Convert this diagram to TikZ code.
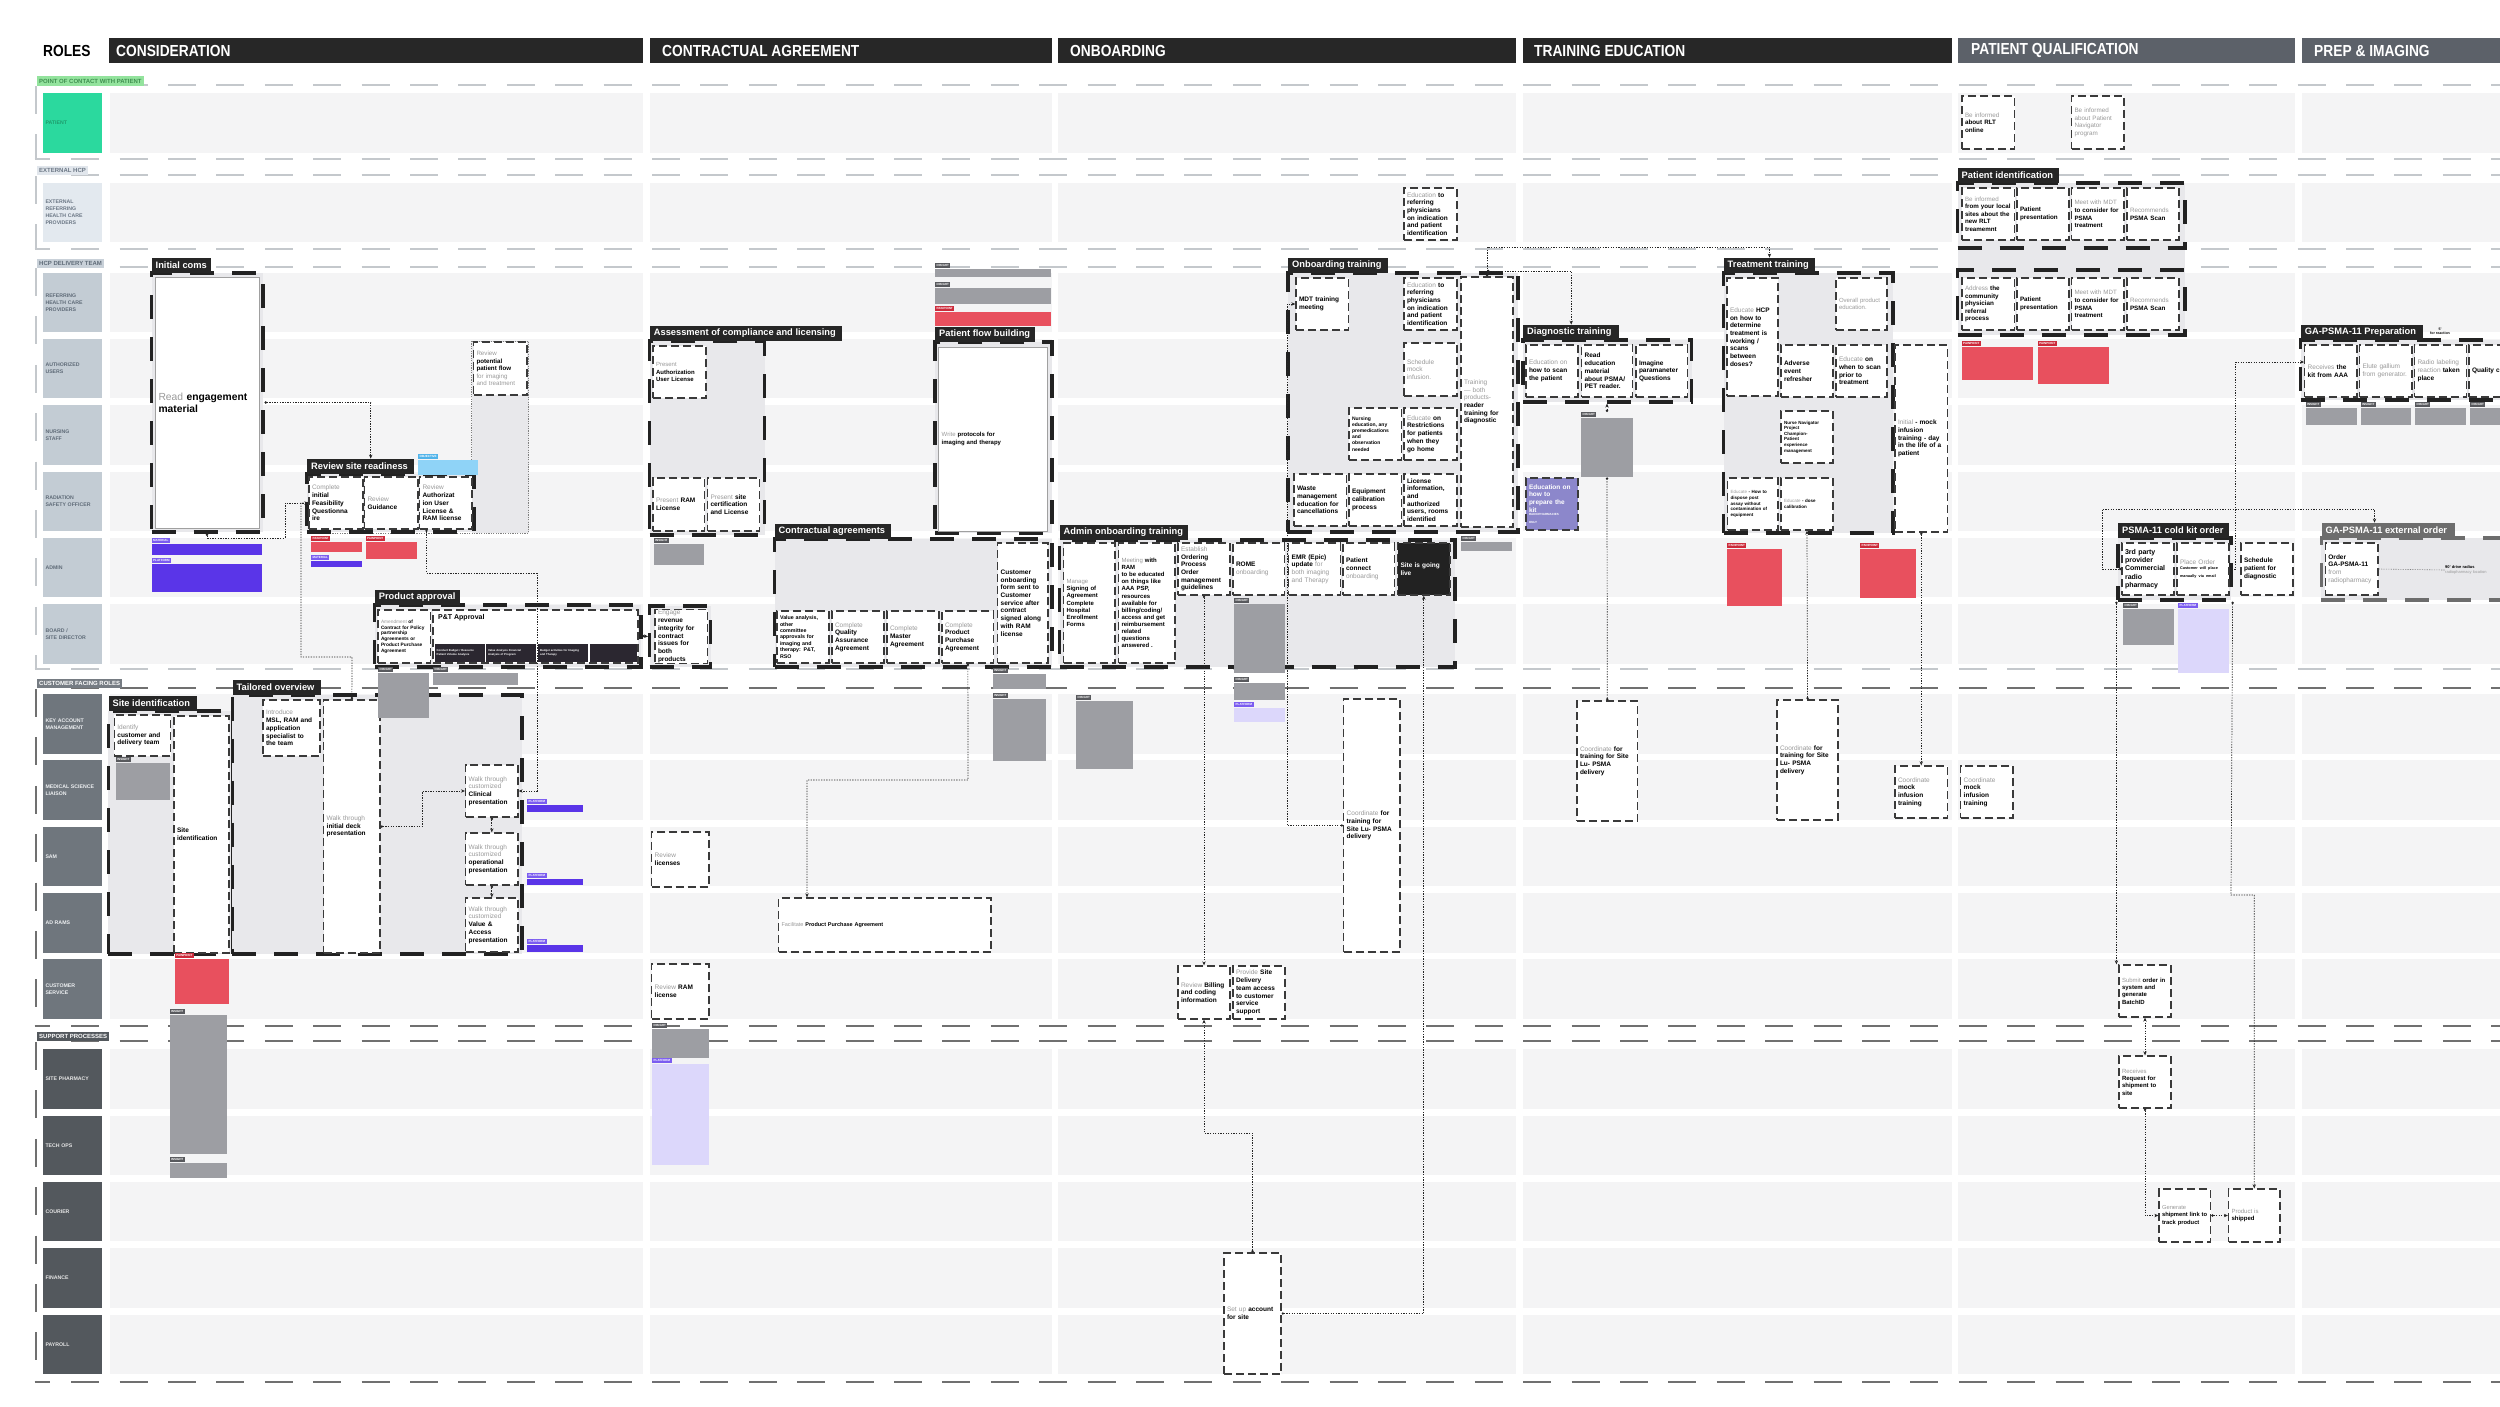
\documentclass[tikz,border=0pt]{standalone}
\usepackage{fontspec}
\setmainfont{Liberation Sans}
\newfontfamily\hdrfont[FakeStretch=0.86]{Liberation Sans}
\usetikzlibrary{arrows.meta}
\definecolor{lane}{HTML}{F4F4F5}
\definecolor{frm}{HTML}{E8E8EB}
\definecolor{hdrc}{HTML}{272727}
\definecolor{hdrg}{HTML}{5C6169}
\definecolor{boxline}{HTML}{3A3A3A}
\definecolor{boxgrey}{HTML}{A0A0A0}
\definecolor{frameline}{HTML}{222222}
\definecolor{tabc}{HTML}{262626}
\definecolor{tabg}{HTML}{6D6D6D}
\definecolor{tg}{HTML}{9A9A9A}
\definecolor{insb}{HTML}{9D9EA3}
\definecolor{inst}{HTML}{58595D}
\definecolor{painb}{HTML}{E8505E}
\definecolor{paint}{HTML}{CC2A3A}
\definecolor{matb}{HTML}{5A35E8}
\definecolor{matt}{HTML}{7B5CF0}
\definecolor{platb}{HTML}{DCD7FB}
\definecolor{objb}{HTML}{8FD3F7}
\definecolor{objt}{HTML}{4FB3EA}
\definecolor{dashl}{HTML}{C4C8CC}
\definecolor{dashd}{HTML}{707070}
\definecolor{kitc}{HTML}{8C87CB}
\definecolor{livec}{HTML}{222222}
\definecolor{darkbox}{HTML}{2B2730}
\definecolor{rolepf}{HTML}{2BD99E}\definecolor{rolept}{HTML}{1E9B6C}
\definecolor{roleef}{HTML}{E3E9EF}\definecolor{roleet}{HTML}{6B7785}
\definecolor{rolehf}{HTML}{C3CCD4}\definecolor{roleht}{HTML}{5F6B78}
\definecolor{rolecf}{HTML}{6F767D}\definecolor{rolect}{HTML}{EEF0F2}
\definecolor{rolesf}{HTML}{53585D}\definecolor{rolest}{HTML}{E6E6E6}
\definecolor{tagaf}{HTML}{93E39D}\definecolor{tagat}{HTML}{3F8F4F}
\definecolor{tagbf}{HTML}{E1E6EC}
\definecolor{tagcf}{HTML}{C9D1D9}
\definecolor{tagdf}{HTML}{767C83}

\tikzset{
 bx/.style={rectangle,draw=boxline,line width=1.3pt,dash pattern=on 8pt off 4pt,fill=white,inner xsep=3pt,inner ysep=1pt,align=left,font=\fontsize{6.5}{7.7}\selectfont\bfseries,text=black},
 grpframe/.style={rectangle,draw=frameline,line width=3.2pt,dash pattern=on 24pt off 18pt,fill=frm,inner sep=0pt},
 grptab/.style={rectangle,fill=tabc,inner sep=0pt,minimum height=15pt},
 tabtxt/.style={inner sep=0pt,text=white,font=\fontsize{9.3}{10}\selectfont\bfseries},
 rolebox/.style={rectangle,minimum width=59pt,minimum height=59.5pt,text width=54pt,inner xsep=2.5pt,inner ysep=0pt,align=left,font=\fontsize{5.2}{7}\selectfont\bfseries},
 sectag/.style={rectangle,inner xsep=2pt,inner ysep=0pt,minimum height=9pt,anchor=north west,font=\fontsize{6}{6}\selectfont\bfseries},
 secline/.style={line width=2.7pt,dash pattern=on 28pt off 20.4pt},
 hbar/.style={rectangle,inner sep=0pt,minimum height=25pt,anchor=north west},
 hdrtxt/.style={inner sep=0pt,anchor=west,text=white,font={\hdrfont\fontsize{16}{16}\selectfont\bfseries}},
 darkb/.style={rectangle,fill=darkbox,text=white,inner xsep=2pt,inner ysep=0pt,minimum height=18pt,align=left,anchor=north west,font=\fontsize{2.8}{3.4}\selectfont\bfseries},
 notetag/.style={rectangle,text=white,inner xsep=1.5pt,inner ysep=0pt,minimum height=5pt,font=\fontsize{3}{3}\selectfont\bfseries},
 insbody/.style={rectangle,fill=insb,inner sep=0pt},
 instag/.style={notetag,fill=inst},
 painbody/.style={rectangle,fill=painb,inner sep=0pt},
 paintag/.style={notetag,fill=paint},
 matbody/.style={rectangle,fill=matb,inner sep=0pt},
 mattag/.style={notetag,fill=matt},
 platbody/.style={rectangle,fill=platb,inner sep=0pt},
 plattag/.style={notetag,fill=matt},
 objbody/.style={rectangle,fill=objb,inner sep=0pt},
 objtag/.style={notetag,fill=objt},
 conn/.style={draw=black!85,line width=0.7pt,dash pattern=on 1.3pt off 1.3pt,{Circle[length=2.4pt]}-{Stealth[length=4pt,width=3.4pt]}},
 conndot/.style={draw=black!85,line width=0.7pt,dash pattern=on 1.3pt off 1.3pt,{Circle[length=2.4pt]}-{Circle[length=2.4pt]}},
 connboth/.style={draw=black!85,line width=0.7pt,dash pattern=on 1.3pt off 1.3pt,{Stealth[length=4pt,width=3.4pt]}-{Stealth[length=4pt,width=3.4pt]}}
}

\newcommand\gt[1]{{\color{tg}\mdseries #1}}
\newcommand\bx[7][]{%
 \pgfmathsetmacro\bxw{#5-#3}\pgfmathsetmacro\bxh{#6-#4}\pgfmathsetmacro\bxt{#5-#3-6}%
 \node[bx,minimum width=\bxw pt,minimum height=\bxh pt,text width=\bxt pt,#1] (#2) at ({(#3+#5)/2},{(#4+#6)/2}) {#7};}
\newcommand\frm[7]{%
 \pgfmathsetmacro\fw{#4-#2}\pgfmathsetmacro\fh{#5-#3}\pgfmathsetmacro\ftw{#6-#2}%
 \node[grpframe,minimum width=\fw pt,minimum height=\fh pt] (#1) at ({(#2+#4)/2},{(#3+#5)/2}) {};
 \node[grptab,minimum width=\ftw pt,anchor=south west] (#1t) at (#2,#3) {};
 \node[tabtxt,anchor=west,xshift=4pt] (#1l) at (#1t.west) {#7};}
\newcommand\note[7]{%
 \pgfmathsetmacro\nbw{#6-#4}\pgfmathsetmacro\nbh{#7-#5-5.5}%
 \node[#2body,minimum width=\nbw pt,minimum height=\nbh pt,anchor=north west] (#1) at (#4,{#5+5.5}) {};
 \node[#2tag,anchor=north west] (#1t) at (#4,#5) {#3};}

\begin{document}
\begin{tikzpicture}[x=1pt,y=-1pt]
\useasboundingbox (0,0) rectangle (2500,1406);
\clip (0,0) rectangle (2500,1406);
\fill[white] (0,0) rectangle (2500,1406);

% lanes
\foreach \ya/\yb in {93/153,183/242,273/332,339/398,405/465,472/531,538/597,604/664,694/754,760/820,827/886,893/953,959/1019,1049/1109,1116/1175,1182/1241,1248/1308,1315/1374}{
 \foreach \xa/\xb in {110/643,650/1051.5,1058/1516,1523/1952,1958/2295,2302/2500}{
  \fill[lane] (\xa,\ya) rectangle (\xb,\yb);}}

% section dashed lines
\foreach \y/\c in {85/dashl,159/dashl,175/dashl,249/dashl,267/dashl,669/dashl,688/dashd,1026/dashd,1041/dashd,1382/dashd}{
 \draw[secline,draw=\c] (71.2,\y) -- (2500,\y);}
\foreach \ya/\yb/\c in {86/159/dashl,176/249/dashl,268/669/dashl,689/1026/dashd,1042/1382/dashd}{
 \draw[secline,draw=\c] (36,\ya) -- (36,\yb);
 \draw[line width=2.7pt,draw=\c] (34.65,\yb) -- (50,\yb);}

% section tags
\node[sectag,fill=tagaf,text=tagat,minimum height=10pt] (tag1) at (37,76) {POINT OF CONTACT WITH PATIENT};
\node[sectag,fill=tagbf,text=roleet] (tag2) at (37,166) {EXTERNAL HCP};
\node[sectag,fill=tagcf,text=roleht] (tag3) at (37,258.5) {HCP DELIVERY TEAM};
\node[sectag,fill=tagdf,text=white] (tag4) at (37,678.5) {CUSTOMER FACING ROLES};
\node[sectag,fill=rolesf,text=white] (tag5) at (37,1032) {SUPPORT PROCESSES};

% roles
\node[rolebox,fill=rolepf,text=rolept] (rPat) at (72.5,123) {PATIENT};
\node[rolebox,fill=roleef,text=roleet] (rExt) at (72.5,212.5) {EXTERNAL\\REFERRING\\HEALTH CARE\\PROVIDERS};
\node[rolebox,fill=rolehf,text=roleht] (rRef) at (72.5,302.5) {REFERRING\\HEALTH CARE\\PROVIDERS};
\node[rolebox,fill=rolehf,text=roleht] (rAuth) at (72.5,368.5) {AUTHORIZED\\USERS};
\node[rolebox,fill=rolehf,text=roleht] (rNur) at (72.5,435) {NURSING\\STAFF};
\node[rolebox,fill=rolehf,text=roleht] (rRso) at (72.5,501.5) {RADIATION\\SAFETY OFFICER};
\node[rolebox,fill=rolehf,text=roleht] (rAdm) at (72.5,567.5) {ADMIN};
\node[rolebox,fill=rolehf,text=roleht] (rBoard) at (72.5,634) {BOARD /\\SITE DIRECTOR};
\node[rolebox,fill=rolecf,text=rolect] (rKam) at (72.5,724) {KEY ACCOUNT\\MANAGEMENT};
\node[rolebox,fill=rolecf,text=rolect] (rMsl) at (72.5,790) {MEDICAL SCIENCE\\LIAISON};
\node[rolebox,fill=rolecf,text=rolect] (rSam) at (72.5,856.5) {SAM};
\node[rolebox,fill=rolecf,text=rolect] (rAd) at (72.5,923) {AD RAMS};
\node[rolebox,fill=rolecf,text=rolect] (rCs) at (72.5,989) {CUSTOMER\\SERVICE};
\node[rolebox,fill=rolesf,text=rolest] (rSp) at (72.5,1079) {SITE PHARMACY};
\node[rolebox,fill=rolesf,text=rolest] (rTech) at (72.5,1145.5) {TECH OPS};
\node[rolebox,fill=rolesf,text=rolest] (rCour) at (72.5,1211.5) {COURIER};
\node[rolebox,fill=rolesf,text=rolest] (rFin) at (72.5,1278) {FINANCE};
\node[rolebox,fill=rolesf,text=rolest] (rPay) at (72.5,1344.5) {PAYROLL};

% headers
\node[inner sep=0pt,anchor=west,font={\hdrfont\fontsize{16}{16}\selectfont\bfseries}] (roles) at (43,50.5) {ROLES};
\node[hbar,fill=hdrc,minimum width=534pt] (h1) at (109,38) {};
\node[hdrtxt] (h1l) at (116,50.5) {CONSIDERATION};
\node[hbar,fill=hdrc,minimum width=401.5pt] (h2) at (650,38) {};
\node[hdrtxt] (h2l) at (662,50.5) {CONTRACTUAL AGREEMENT};
\node[hbar,fill=hdrc,minimum width=458pt] (h3) at (1058,38) {};
\node[hdrtxt] (h3l) at (1070,50.5) {ONBOARDING};
\node[hbar,fill=hdrc,minimum width=429pt] (h4) at (1523,38) {};
\node[hdrtxt] (h4l) at (1534,50.5) {TRAINING EDUCATION};
\node[hbar,fill=hdrg,minimum width=337pt] (h5) at (1958,38) {};
\node[hdrtxt] (h5l) at (1971,50.5) {PATIENT QUALIFICATION};
\node[hbar,fill=hdrg,minimum width=230pt] (h6) at (2302,38) {};
\node[hdrtxt] (h6l) at (2314,50.5) {PREP \& IMAGING};

% dotted region around review of patient flow
\fill[frm] (471.5,341) rectangle (528.5,533);
\draw[gray,line width=0.6pt,dash pattern=on 1.2pt off 1.2pt] (471.5,341) -- (528.5,341) -- (528.5,533) -- (307,533);
\draw[gray,line width=0.6pt,dash pattern=on 1.2pt off 1.2pt] (471.5,341) -- (471.5,474);

% frames
\frm{icF}{151.5}{273}{263}{532}{211}{Initial coms}
\frm{rsrF}{307}{474}{474}{532}{414}{Review site readiness}
\frm{paF}{374.7}{605}{641}{667}{459.6}{Product approval}
\frm{sidF}{108.4}{711}{232.4}{954}{196.5}{Site identification}
\frm{toF}{232.4}{695}{522}{954}{321}{Tailored overview}
\frm{acF}{649.7}{341}{764.5}{535}{841.4}{Assessment of compliance and licensing}
\frm{pfF}{935}{342}{1052}{533}{1034.8}{Patient flow building}
\node[grpframe,minimum width=61pt,minimum height=61pt] (engF) at (680.2,636.5) {};
\frm{caF}{774.5}{539}{1052}{667}{891}{Contractual agreements}
\frm{aoF}{1059.5}{540}{1455}{667}{1188}{Admin onboarding training}
\frm{otF}{1288}{273}{1518}{532}{1388}{Onboarding training}
\frm{dtF}{1523}{340}{1691.6}{402}{1619}{Diagnostic  training}
\frm{ttF}{1723.5}{273}{1893}{533}{1815}{Treatment training}
\fill[frm] (1957.5,248) rectangle (2185,270);
\frm{piF}{1957.5}{183}{2185}{248}{2059}{Patient identification}
\node[grpframe,minimum width=227.5pt,minimum height=65pt] (pi2F) at (2071.25,302.5) {};
\frm{ckF}{2118}{538}{2231}{600}{2229}{PSMA-11 cold kit order}
\frm{gpF}{2300.7}{340}{2530}{400}{2423}{GA-PSMA-11 Preparation}
\node[grpframe,draw=tabg,minimum width=208.6pt,minimum height=62pt] (gaF) at (2425.7,569) {};
\node[grptab,fill=tabg,minimum width=133.6pt,anchor=south west] (gaT) at (2321.4,538) {};
\node[tabtxt,anchor=west,xshift=4pt] (gaL) at (gaT.west) {GA-PSMA-11 external order};

% ---------- CONSIDERATION boxes
\bx[solid,draw=boxgrey,line width=1pt,font=\fontsize{10.3}{12}\selectfont\bfseries]{icBox}{155.5}{277}{259}{528}{\gt{Read} engagement\\material}
\bx[font=\fontsize{6.2}{7.6}\selectfont\bfseries]{potflow}{473.5}{342}{527}{395}{\gt{Review}\\potential\\patient flow\\\gt{for imaging}\\\gt{and treatment}}
\bx{feas}{309}{477}{363}{529}{\gt{Complete}\\initial\\Feasibility\\Questionna\\ire}
\bx{guid}{364.5}{477}{418}{529}{\gt{Review}\\Guidance}
\bx{auth}{419.5}{477}{472}{529}{\gt{Review}\\Authorizat\\ion User\\License \&\\RAM license}
\bx[font=\fontsize{4.8}{5.8}\selectfont\bfseries]{amend}{378}{610}{430.5}{663}{\gt{Amendment} of\\Contract for Policy\\partnership\\Agreements or\\Product Purchase\\Agreement}
\bx{pt}{433}{610}{638}{663}{}
\node[anchor=north west,inner sep=0pt,font=\fontsize{7}{8}\selectfont\bfseries] (ptl) at (438,614) {P\&T Approval};
\node[darkb,minimum width=49.8pt,text width=45.8pt] (ptd1) at (434.5,643.5) {Conduct Budget / Resource\\Patient Volume Analysis};
\node[darkb,minimum width=50pt,text width=46pt] (ptd2) at (486,643.5) {Value Analysis Financial\\Analysis of Program};
\node[darkb,minimum width=50pt,text width=46pt] (ptd3) at (538,643.5) {Budget activities for Imaging\\and Therapy};
\node[darkb,minimum width=47pt,text width=43pt] (ptd4) at (590,643.5) {};
\bx{ident}{114.4}{715}{170.6}{756}{\gt{Identify}\\customer and\\delivery team}
\bx{siteid}{174}{716}{229}{953}{Site\\identification}
\bx{intro}{263}{700}{320}{756}{\gt{Introduce}\\MSL, RAM and\\application\\specialist to\\the team}
\bx{deck}{323.7}{700}{380}{953}{\gt{Walk through}\\initial deck\\presentation}
\bx{clin}{465.6}{765}{518}{817}{\gt{Walk through}\\\gt{customized}\\Clinical\\presentation}
\bx{oper}{465.6}{833}{518}{885}{\gt{Walk through}\\\gt{customized}\\operational\\presentation}
\bx{valac}{465.6}{898}{518}{952}{\gt{Walk through}\\\gt{customized}\\Value \&\\Access\\presentation}

% ---------- CONTRACTUAL boxes
\bx[font=\fontsize{6}{7.2}\selectfont\bfseries]{pauth}{653}{346}{706}{398}{\gt{Present}\\Authorization\\User License}
\bx{pram}{653}{478}{704.7}{531}{\gt{Present} RAM\\License}
\bx{psite}{707.5}{478}{759.7}{531}{\gt{Present} site\\certification\\and License}
\bx[solid,draw=boxgrey,line width=1pt,font=\fontsize{6}{7.2}\selectfont\bfseries]{pfbox}{938.7}{347}{1047.5}{531}{\gt{Write} protocols for\\imaging and therapy}
\bx{engage}{655}{610}{707.5}{663}{\gt{Engage}\\revenue\\integrity for\\contract\\issues for\\both\\products}
\bx[font=\fontsize{5.3}{6.4}\selectfont\bfseries]{valan}{777}{611}{829}{663}{Value analysis,\\other\\committee\\approvals for\\imaging and\\therapy: P\&T,\\RSO}
\bx{qa}{832}{611}{884}{663}{\gt{Complete}\\Quality\\Assurance\\Agreement}
\bx{master}{887}{611}{939}{663}{\gt{Complete}\\Master\\Agreement}
\bx{ppa}{942}{611}{993.7}{663}{\gt{Complete}\\Product\\Purchase\\Agreement}
\bx{custon}{997.7}{543}{1048}{663}{Customer\\onboarding\\form sent to\\Customer\\service after\\contract\\signed along\\with RAM\\license}
\bx{revlic}{651.7}{832}{709}{887}{\gt{Review}\\licenses}
\bx[font=\fontsize{5.5}{6.5}\selectfont\bfseries]{fppa}{778.5}{898}{991}{952}{\gt{Facilitate} Product Purchase Agreement}
\bx{revram}{651.7}{964}{709}{1019}{\gt{Review} RAM\\license}

% ---------- ONBOARDING boxes
\bx[font=\fontsize{6}{7.1}\selectfont\bfseries]{manage}{1063.5}{543}{1115}{663}{\gt{Manage}\\Signing of\\Agreement\\Complete\\Hospital\\Enrollment\\Forms}
\bx[font=\fontsize{6}{7.1}\selectfont\bfseries]{meet}{1118.5}{543}{1175}{663}{\gt{Meeting} with\\RAM\\to be educated\\on things like\\AAA PSP,\\resources\\available for\\billing/coding/\\access and get\\reimbursement\\related\\questions\\answered .}
\bx{estab}{1178}{543}{1230}{595}{\gt{Establish}\\Ordering\\Process\\Order\\management\\guidelines}
\bx{rome}{1233}{543}{1284.7}{595}{ROME\\\gt{onboarding}}
\bx{emr}{1288.7}{543}{1340.5}{595}{EMR (Epic)\\update \gt{for}\\\gt{both imaging}\\\gt{and Therapy}}
\bx{pconn}{1343}{543}{1394.7}{595}{Patient\\connect\\\gt{onboarding}}
\bx[fill=livec,text=white]{live}{1397.5}{543}{1450}{595}{Site is going\\live}
\bx{coordA}{1343.7}{699}{1400}{952}{\gt{Coordinate} for\\training for\\Site Lu- PSMA\\delivery}
\bx{billing}{1178}{966}{1230}{1019}{\gt{Review} Billing\\and coding\\information}
\bx{provide}{1233}{966}{1285}{1019}{\gt{Provide} Site\\Delivery\\team access\\to customer\\service\\support}
\bx{setup}{1224}{1253}{1281}{1374}{\gt{Set up} account\\for site}
\bx{mdt}{1296}{278}{1348.5}{330}{MDT training\\meeting}
\bx{eduref2}{1404}{188}{1457}{240}{\gt{Education} to\\referring\\physicians\\on indication\\and patient\\identification}
\bx{eduref}{1404}{278}{1457}{330}{\gt{Education} to\\referring\\physicians\\on indication\\and patient\\identification}
\bx{sched}{1404}{343}{1457}{396}{\gt{Schedule\\mock\\infusion.}}
\bx[font=\fontsize{5}{6.1}\selectfont\bfseries]{nursed}{1349}{408}{1401.5}{460}{Nursing\\education, any\\premedications\\and\\observation\\needed}
\bx{restr}{1404}{408}{1457}{460}{\gt{Educate} on\\Restrictions\\for patients\\when they\\go home}
\bx{train}{1461}{277}{1513}{527}{\gt{Training}\\\gt{— both}\\\gt{products-}\\reader\\training for\\diagnostic}
\bx{waste}{1294}{474}{1346.5}{526}{Waste\\management\\education for\\cancellations}
\bx{equip}{1349}{474}{1401.5}{526}{Equipment\\calibration\\process}
\bx{licinfo}{1404}{474}{1457}{526}{License\\information,\\and\\authorized\\users, rooms\\identified}

% ---------- TRAINING EDUCATION boxes
\bx{scan}{1526}{345}{1578}{397}{\gt{Education on}\\how to scan\\the patient}
\bx{readpsma}{1581.6}{345}{1632.6}{397}{Read\\education\\material\\about PSMA/\\PET reader.}
\bx{imagine}{1636}{345}{1687.7}{397}{Imagine\\paramaneter\\Questions}
\bx[fill=kitc,text=white]{kit}{1526}{478}{1578}{530}{Education on\\how to\\prepare the\\kit\\{\fontsize{3}{3.6}\selectfont RADIOPHARMACIES\\ONLY}}
\bx{coordB}{1577}{701}{1637.5}{821}{\gt{Coordinate} for\\training for Site\\Lu- PSMA\\delivery}
\bx{coordC}{1777}{700}{1838}{820}{\gt{Coordinate} for\\training for Site\\Lu- PSMA\\delivery}
\bx{eduhcp}{1727}{278}{1778}{396}{\gt{Educate} HCP\\on how to\\determine\\treatment is\\working /\\scans\\between\\doses?}
\bx[font=\fontsize{6}{7.2}\selectfont\bfseries]{overall}{1836}{278}{1887}{330}{\gt{Overall product\\education.}}
\bx{adverse}{1781}{345}{1833}{397}{Adverse\\event\\refresher}
\bx{whenscan}{1836}{345}{1887}{397}{\gt{Educate} on\\when to scan\\prior to\\treatment}
\bx[font=\fontsize{4.5}{5.6}\selectfont\bfseries]{nursenav}{1781}{411}{1833}{463}{Nurse Navigator\\Project\\Champion-\\Patient\\experience\\management}
\bx[font=\fontsize{4.5}{5.6}\selectfont\bfseries]{dispose}{1727.5}{478}{1778}{530}{\gt{Educate} - How to\\dispose post\\assay without\\contamination of\\equipment}
\bx[font=\fontsize{4.5}{5.6}\selectfont\bfseries]{dose}{1781}{478}{1833}{530}{\gt{Educate} - dose\\calibration}
\bx{mock}{1895}{345}{1947.5}{532}{\gt{Initial} - mock\\infusion\\training - day\\in the life of a\\patient}
\bx{mockc1}{1895}{766}{1947.5}{818}{\gt{Coordinate}\\mock\\infusion\\training}
\bx{mockc2}{1960.7}{766}{2013}{818}{\gt{Coordinate}\\mock\\infusion\\training}

% ---------- PATIENT QUALIFICATION boxes
\bx[font=\fontsize{6.3}{7.6}\selectfont\bfseries]{rltonline}{1962}{96}{2014.5}{149}{\gt{Be informed}\\about RLT\\online}
\bx[font=\fontsize{6.3}{7.6}\selectfont\bfseries]{pnprog}{2071.5}{96}{2124}{149}{\gt{Be informed\\about Patient\\Navigator\\program}}
\bx[font=\fontsize{6.2}{7.6}\selectfont\bfseries]{local}{1962}{188}{2014.5}{240}{\gt{Be informed}\\from your local\\sites about the\\new RLT\\treamemnt}
\bx[font=\fontsize{6.3}{7.6}\selectfont\bfseries]{ppres1}{2017}{188}{2069}{240}{Patient\\presentation}
\bx[font=\fontsize{6.2}{7.6}\selectfont\bfseries]{mdtp1}{2071.5}{188}{2124}{240}{\gt{Meet with MDT}\\to consider for\\PSMA\\treatment}
\bx[font=\fontsize{6.3}{7.6}\selectfont\bfseries]{rec1}{2127}{188}{2179}{240}{\gt{Recommends}\\PSMA Scan}
\bx[font=\fontsize{6.3}{7.6}\selectfont\bfseries]{addr}{1962}{278}{2014.5}{330}{\gt{Address} the\\community\\physician\\referral\\process}
\bx[font=\fontsize{6.3}{7.6}\selectfont\bfseries]{ppres2}{2017}{278}{2069}{330}{Patient\\presentation}
\bx[font=\fontsize{6.2}{7.6}\selectfont\bfseries]{mdtp2}{2071.5}{278}{2124}{330}{\gt{Meet with MDT}\\to consider for\\PSMA\\treatment}
\bx[font=\fontsize{6.3}{7.6}\selectfont\bfseries]{rec2}{2127}{278}{2179}{330}{\gt{Recommends}\\PSMA Scan}
\bx[font=\fontsize{7}{8.2}\selectfont\bfseries]{kit3}{2122}{543}{2174}{595}{3rd party\\provider\\Commercial\\radio\\pharmacy}
\bx{place}{2177}{543}{2229}{595}{\gt{Place Order}\\{\fontsize{3.8}{4.6}\selectfont Customer will place\\manually via email}}
\bx{schedp}{2241}{543}{2293}{595}{Schedule\\patient for\\diagnostic}
\bx[font=\fontsize{6}{7.4}\selectfont\bfseries]{submit}{2119}{965}{2171}{1017}{\gt{Submit} order in\\system and\\generate\\BatchID}
\bx[font=\fontsize{6}{7.4}\selectfont\bfseries]{recvreq}{2119}{1056}{2171}{1108}{\gt{Receives}\\Request for\\shipment to\\site}
\bx[font=\fontsize{5.8}{7.4}\selectfont\bfseries]{gen}{2159}{1189}{2210.6}{1242}{\gt{Generate}\\shipment link to\\track product}
\bx[font=\fontsize{6}{7.4}\selectfont\bfseries]{shipped}{2228.5}{1189}{2280}{1242}{\gt{Product is}\\shipped}

% ---------- PREP & IMAGING boxes
\bx{recvkit}{2304.7}{345}{2357}{397}{\gt{Receives} the\\kit from AAA}
\bx{elute}{2359.5}{345}{2412}{397}{\gt{Elute gallium\\from generator.}}
\bx{radio}{2414.5}{345}{2466.5}{397}{\gt{Radio labeling\\reaction} taken\\place}
\bx{quality}{2469}{345}{2521}{397}{Quality c}
\bx{ordga}{2325.4}{543}{2378}{595}{Order\\GA-PSMA-11\\\gt{from}\\\gt{radiopharmacy}}
\node[anchor=west,inner sep=0pt,align=left,font=\fontsize{4}{4.8}\selectfont] (radtxt) at (2445,570) {\textbf{90' drive radius}\\\gt{radiopharmacy location}};
\node[inner sep=0pt,align=center,font=\fontsize{3.6}{4.2}\selectfont\bfseries] (react) at (2440,331) {5'\\for reaction};

% ---------- notes
\note{nMat1}{mat}{MATERIAL}{151.5}{538}{262}{555}
\note{nPlat1}{mat}{PLATFORM}{151.5}{558}{262}{592}
\note{nObj}{obj}{OBJECTIVE}{418}{454}{477.5}{475}
\note{nPain1}{pain}{PAINPOINT}{311}{536}{362}{552}
\note{nPain2}{pain}{PAINPOINT}{365.5}{536}{416.5}{559}
\note{nMat2}{mat}{MATERIAL}{311}{555}{362}{567}
\note{nIns1}{ins}{INSIGHT}{378}{667}{428.5}{718}
\note{nIns2}{ins}{INSIGHT}{433}{667}{518}{685}
\note{nIns3}{ins}{INSIGHT}{115.6}{757}{169.4}{800}
\note{nPlat2}{mat}{PLATFORM}{527}{799}{583}{812}
\note{nPlat3}{mat}{PLATFORM}{527}{873}{583}{885}
\note{nPlat4}{mat}{PLATFORM}{527}{939}{583}{952}
\note{nPain3}{pain}{PAINPOINT}{174.6}{953}{228.4}{1004}
\note{nIns4}{ins}{INSIGHT}{169.4}{1009}{226.4}{1154}
\note{nIns5}{ins}{INSIGHT}{169.4}{1157}{226.4}{1178}
\note{nIns6}{ins}{INSIGHT}{935}{263}{1050.7}{277}
\note{nIns7}{ins}{INSIGHT}{935}{282}{1050.7}{304}
\note{nPain4}{pain}{PAINPOINT}{935}{306}{1050.7}{326}
\note{nIns8}{ins}{INSIGHT}{653.7}{538}{704}{565}
\note{nIns9}{ins}{INSIGHT}{992.5}{668}{1045.5}{689}
\note{nIns10}{ins}{INSIGHT}{992.5}{693}{1045.5}{761}
\note{nIns11}{ins}{INSIGHT}{652}{1023}{708.7}{1058}
\note{nPlat5}{plat}{PLATFORM}{652}{1058}{708.7}{1165}
\note{nIns12}{ins}{INSIGHT}{1076}{695}{1132.4}{769}
\note{nIns13}{ins}{INSIGHT}{1234}{598}{1285}{673}
\note{nIns14}{ins}{INSIGHT}{1234}{677}{1285}{700}
\note{nPlat6}{plat}{PLATFORM}{1234}{702}{1285}{722}
\note{nIns15}{ins}{INSIGHT}{1461}{536}{1512}{551}
\note{nIns16}{ins}{INSIGHT}{1581}{412}{1632.6}{477}
\note{nPain5}{pain}{PAINPOINT}{1727}{543}{1782}{606}
\note{nPain6}{pain}{PAINPOINT}{1860}{543}{1916}{598}
\note{nPain7}{pain}{PAINPOINT}{1961.5}{341}{2032.5}{380}
\note{nPain8}{pain}{PAINPOINT}{2037.6}{341}{2109}{384}
\note{nIns17}{ins}{INSIGHT}{2123}{603}{2174}{645}
\note{nPlat7}{plat}{PLATFORM}{2178}{603}{2229}{673}
\note{nIns18}{ins}{INSIGHT}{2305.5}{402}{2356.5}{425}
\note{nIns19}{ins}{INSIGHT}{2360.5}{402}{2411}{425}
\note{nIns20}{ins}{INSIGHT}{2415}{402}{2466}{425}
\note{nIns21}{ins}{INSIGHT}{2470}{402}{2521}{425}

% ---------- connectors
\draw[conn] (icF.east) -- (370.7,402.5) -- (rsrFt.north -| 370.7,0);
\draw[conn] (icF.south -| 207,0) -- (207,538) -- (285,538) -- (285,503) -- (feas.west);
\draw[conndot] (feas.west) -- (301,503) -- (301,657) -- (352,657) -- (deck.north);
\draw[conn] (auth.south -| 426.5,0) -- (426.5,573) -- (537,573) -- (537,791) -- (clin.east);
\draw[conn] (deck.east) -- (422.5,826.5) -- (422.5,791) -- (clin.west);
\draw[conn] (clin.south) -- (oper.north);
\draw[conn] (oper.south) -- (valac.north);
\draw[conn] (paF.east) -- (engF.west);
\draw[conn] (ppa.south) -- (968,780) -- (807,780) -- (fppa.north -| 807,0);
\draw[conn] (estab.south) -- (billing.north);
\draw[conn] (setup.north) -- (setup.north |- 0,1133) -- (billing.south |- 0,1133) -- (billing.south);
\draw[conn] (setup.east) -- (live.south |- setup.east) -- (live.south);
\draw[conn] (coordA.west) -- (1287,825.5) -- (1287,304) -- (mdt.west);
\draw[conn] (train.north) -- (train.north |- 0,247) -- (ttFt.north |- 0,247) -- (ttFt.north);
\coordinate (j14) at (1487,271);
\draw[conn] (j14) -- (dtFt.north |- 0,271) -- (dtFt.north);
\draw[conn] (nIns16.north |- 0,412) -- (dtF.south -| nIns16.north);
\draw[conndot] (coordB.north) -- (nIns16.south);
\draw[conn] (coordC.north) -- (dose.south);
\draw[conn] (mock.south) -- (mockc1.north);
\draw[conn] (kit3.west) -- (2102,569) -- (2102,509) -- (2374.5,509) -- (gaT.north -| 2374.5,0);
\draw[conn] (place.east) -- (2235.7,569) -- (2235.7,362) -- (recvkit.west |- 0,362);
\draw[conn] (ckF.south east) -- (2231,895) -- (shipped.north |- 0,895) -- (shipped.north);
\draw[conn] (ckF.south west) -- (ckF.south west |- submit.north);
\draw[connboth] (submit.south) -- (recvreq.north);
\draw[conn] (recvreq.south) -- (recvreq.south |- gen.west) -- (gen.west);
\draw[conn] (gen.east) -- (shipped.west);
\draw[gray,line width=0.6pt,dash pattern=on 1.2pt off 1.2pt] (ordga.east) -- (radtxt.west);
\end{tikzpicture}
\end{document}
